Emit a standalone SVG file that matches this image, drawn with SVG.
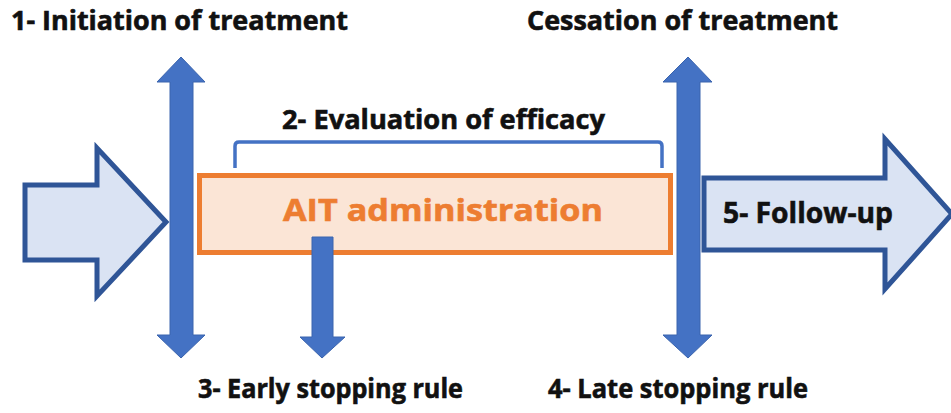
<svg xmlns="http://www.w3.org/2000/svg" width="951" height="413" viewBox="0 0 951 413">
<style>
.lbl{font-family:"Open Sans","Liberation Sans",sans-serif;font-weight:bold;fill:#111;stroke:#111;stroke-width:0.6;}
.bigarrow{fill:#DAE3F3;stroke:#2F5597;stroke-width:5;stroke-linejoin:miter;}
.blue{fill:#4472C4;stroke:#3A64AE;stroke-width:1;}
</style>
<rect width="951" height="413" fill="#fff"/>
<g id="connectors">
<polygon id="left-vert" class="blue" points="181,57 205,82 193,82 193,335 205,335 181,358 157,335 170,335 170,82 157,82"/>
<polygon id="right-vert" class="blue" points="688,57 712,82 700,82 700,335 712,335 688,358 663,335 677,335 677,82 663,82"/>
</g>
<g id="input-arrow">
<polygon class="bigarrow" points="25,185 97,185 97,148 166,222 97,296 97,260 25,260"/>
</g>
<g id="ait">
<rect x="199.5" y="175.5" width="471" height="77" fill="#FBE5D6" stroke="#ED7D31" stroke-width="5"/>
<text x="283" y="221" font-family="Open Sans, Liberation Sans, sans-serif" font-weight="bold" font-size="31" fill="#ED7D31" stroke="#ED7D31" stroke-width="0.6" textLength="320" lengthAdjust="spacingAndGlyphs">AIT administration</text>
</g>
<g id="efficacy">
<path d="M235,168 V146 Q235,142 239,142 H658 Q662,142 662,146 V168" fill="none" stroke="#4472C4" stroke-width="3.5"/>
<text class="lbl" x="282" y="129" font-size="26.5" textLength="323" lengthAdjust="spacingAndGlyphs">2- Evaluation of efficacy</text>
</g>
<g id="early-stop">
<polygon class="blue" points="312,237 333,237 333,337 345,337 322,358 300,337 312,337"/>
<text class="lbl" x="198" y="398" font-size="26.5" textLength="265" lengthAdjust="spacingAndGlyphs">3- Early stopping rule</text>
</g>
<g id="follow-up">
<polygon class="bigarrow" points="704,178 885,178 885,139 952,214 885,289 885,250 704,250"/>
<text class="lbl" x="723" y="223" font-size="29" textLength="170" lengthAdjust="spacingAndGlyphs">5- Follow-up</text>
</g>
<g id="initiation">
<text class="lbl" x="11" y="30" font-size="26.5" textLength="337" lengthAdjust="spacingAndGlyphs">1- Initiation of treatment</text>
</g>
<g id="cessation">
<text class="lbl" x="527" y="30" font-size="26.5" textLength="311" lengthAdjust="spacingAndGlyphs">Cessation of treatment</text>
</g>
<g id="late-stop">
<text class="lbl" x="548" y="398" font-size="26.5" textLength="260" lengthAdjust="spacingAndGlyphs">4- Late stopping rule</text>
</g>
</svg>
